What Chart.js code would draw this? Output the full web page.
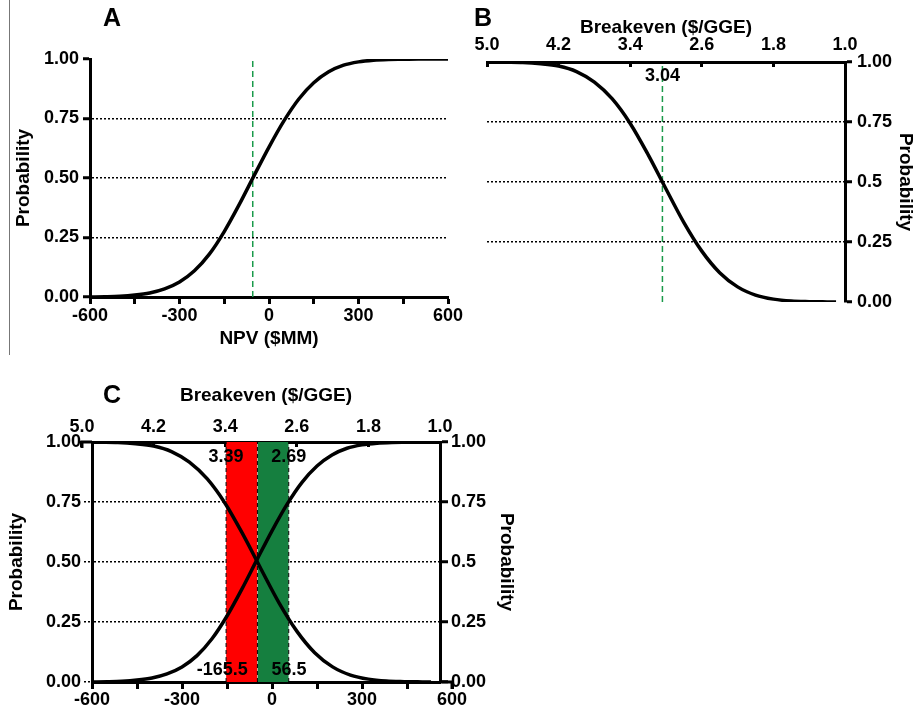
<!DOCTYPE html>
<html>
<head>
<meta charset="utf-8">
<script src="https://cdn.jsdelivr.net/npm/chart.js@4"></script>
<style>
  body { margin: 0; background: #fff; width: 917px; height: 712px; position: relative; overflow: hidden;
         font-family: "Liberation Sans", Arial, sans-serif; }
  canvas { position: absolute; }
  .letter { position: absolute; font-weight: bold; font-size: 25px; line-height: 1; }
  .rule { position: absolute; left: 9px; top: 0; width: 1px; height: 355px; background: #777; }
</style>
</head>
<body>
<div class="rule"></div>
<canvas id="chartA" width="470" height="360" style="left:0;top:0"></canvas>
<canvas id="chartB" width="457" height="330" style="left:460px;top:0"></canvas>
<canvas id="chartC" width="520" height="332" style="left:0;top:380px"></canvas>
<div class="letter" style="left:103px;top:5px">A</div>
<div class="letter" style="left:474px;top:5px">B</div>
<div class="letter" style="left:103px;top:382px">C</div>

<script>
// NPV ($MM) and its cumulative probability (panel A, rising curve in C)
const npv = [-600, -550, -500, -450, -400, -350, -300, -250, -200, -150, -100, -50, 0,
  50, 100, 150, 200, 250, 300, 350, 400, 450, 500, 550, 600];
const npvProb = [0.000, 0.001, 0.003, 0.008, 0.017, 0.034, 0.063, 0.110, 0.180, 0.275, 0.388, 0.510, 0.630,
  0.740, 0.832, 0.900, 0.946, 0.974, 0.988, 0.995, 0.998, 0.999, 1.000, 1.000, 1.000];

// Breakeven ($/GGE) and its probability (panel B, falling curve in C)
const breakeven = [5.0, 4.8, 4.6, 4.4, 4.2, 4.0, 3.8, 3.6, 3.4, 3.2, 3.0, 2.8, 2.6,
  2.4, 2.2, 2.0, 1.8, 1.6, 1.4, 1.2, 1.1];
const breakevenProb = [1.000, 0.999, 0.998, 0.993, 0.983, 0.960, 0.916, 0.846, 0.744, 0.614, 0.471, 0.331, 0.212,
  0.122, 0.063, 0.029, 0.012, 0.004, 0.0015, 0.0004, 0.000];

// tick values / labels
const npvTicks = [-600, -450, -300, -150, 0, 150, 300, 450, 600];
const npvLabels = [-600, -300, 0, 300, 600];
const beTicks = [5.0, 4.2, 3.4, 2.6, 1.8, 1.0];
const probTicks = [0, 0.25, 0.5, 0.75, 1];

// marked values
const npvMedian = -54.5;
const npvLow = -165.5;
const npvHigh = 56.5;
const beMedian = 3.04;
const beLow = 3.39;
const beHigh = 2.69;

const FONT = '"Liberation Sans", Arial, sans-serif';
const tickFont = { family: FONT, size: 18, weight: 'bold' };
const titleFont = { family: FONT, size: 19, weight: 'bold' };
Chart.defaults.color = '#000';
Chart.defaults.font.family = FONT;

const pts = (xs, ys) => xs.map((x, i) => ({ x: x, y: ys[i] }));
const vline = x => [{ x: x, y: 0 }, { x: x, y: 1 }];
const fixTicks = list => s => { s.ticks = list.map(v => ({ value: v })); };
const fmtLeft = v => v.toFixed(2);
const fmtRight = v => (v === 0.5 ? '0.5' : v.toFixed(2));

// labels and little axis extensions drawn after the chart
const marks = {
  id: 'marks',
  afterDraw(chart, args, opts) {
    const ctx = chart.ctx;
    const area = chart.chartArea;
    ctx.save();
    (opts.stubs || []).forEach(s => {
      const px = chart.scales[s.axis].getPixelForValue(s.value);
      const y = s.edge === 'top' ? area.top : area.bottom;
      const from = px < area.left ? area.left : area.right;
      ctx.strokeStyle = '#000';
      ctx.lineWidth = 3;
      ctx.beginPath();
      ctx.moveTo(from, y);
      ctx.lineTo(px - (px < area.left ? 1.5 : -1.5), y);
      ctx.moveTo(px, y);
      ctx.lineTo(px, y + s.tick);
      ctx.stroke();
    });
    ctx.font = 'bold 18px ' + FONT;
    ctx.fillStyle = '#000';
    ctx.textAlign = 'center';
    ctx.textBaseline = 'middle';
    (opts.notes || []).forEach(n => {
      const px = chart.scales[n.axis].getPixelForValue(n.value);
      const y = n.from === 'top' ? area.top + n.dy : area.bottom - n.dy;
      ctx.fillText(n.text, px, y);
    });
    ctx.restore();
  }
};

function probAxis(pos, width, tl, pad, titlePad, fmt, grid, dotTicks) {
  return {
    type: 'linear', position: pos, min: 0, max: 1,
    afterBuildTicks: fixTicks(probTicks),
    afterFit: s => { s.width = width; },
    ticks: { font: tickFont, color: '#000', padding: pad, callback: fmt },
    grid: {
      drawOnChartArea: grid,
      color: c => (c.tick && c.tick.value > 0 && c.tick.value < 1) ? '#000' : 'rgba(0,0,0,0)',
      lineWidth: 1.5, tickLength: tl, tickColor: '#000',
      tickWidth: dotTicks ? 1.5 : 3, tickBorderDash: dotTicks ? [2, 2] : []
    },
    border: { color: '#000', width: 3, dash: [2, 2] },
    title: { display: true, text: 'Probability', font: titleFont, color: '#000', padding: { top: titlePad, bottom: 0 } }
  };
}

function npvAxis(height, pad, min, max, title) {
  return {
    type: 'linear', position: 'bottom', min: min, max: max,
    afterBuildTicks: fixTicks(npvTicks),
    afterFit: s => { s.height = height; },
    ticks: { font: tickFont, color: '#000', padding: pad, maxRotation: 0, autoSkip: false,
      callback: v => (npvLabels.includes(v) ? String(v) : '') },
    grid: { drawOnChartArea: false, tickLength: 7, tickColor: '#000', tickWidth: 3 },
    border: { color: '#000', width: 3 },
    title: { display: !!title, text: title || '', font: titleFont, color: '#000', padding: { top: 0, bottom: 10 } }
  };
}

function beAxis(height, pad, titlePad, min, max) {
  return {
    type: 'linear', position: 'top', reverse: true, min: min, max: max,
    afterBuildTicks: fixTicks(beTicks),
    afterFit: s => { s.height = height; },
    ticks: { font: tickFont, color: '#000', padding: pad, maxRotation: 0, autoSkip: false,
      callback: v => v.toFixed(1) },
    grid: { drawOnChartArea: false, tickLength: -5, tickColor: '#000', tickWidth: 3 },
    border: { color: '#000', width: 3 },
    title: { display: true, text: 'Breakeven ($/GGE)', font: titleFont, color: '#000', padding: { top: titlePad, bottom: 0 } }
  };
}

const curve = (data, axis) => ({
  data: data, xAxisID: axis, showLine: true, borderColor: '#000', borderWidth: 3.5,
  pointRadius: 0, cubicInterpolationMode: 'monotone', fill: false
});
const greenDash = (x, axis) => ({
  data: vline(x), xAxisID: axis, showLine: true, borderColor: '#1a9a4a', borderWidth: 1.5,
  borderDash: [6, 4], pointRadius: 0, fill: false
});
const blackDash = (x, axis) => ({
  data: vline(x), xAxisID: axis, showLine: true, borderColor: '#000', borderWidth: 1,
  borderDash: [4, 3], pointRadius: 0, fill: false
});
const band = (x1, x2, color, axis) => ({
  data: [{ x: x1, y: 1 }, { x: x2, y: 1 }], xAxisID: axis, showLine: true,
  borderWidth: 0, borderColor: 'rgba(0,0,0,0)', backgroundColor: color, pointRadius: 0, fill: 'origin'
});

const common = {
  responsive: false, animation: false,
  plugins: { legend: { display: false }, tooltip: { enabled: false } }
};

// Panel A
new Chart(document.getElementById('chartA'), {
  type: 'scatter',
  data: { datasets: [curve(pts(npv, npvProb), 'x'), greenDash(npvMedian, 'x')] },
  options: Object.assign({}, common, {
    layout: { padding: { left: 0, top: 59, right: 22, bottom: 0 } },
    scales: {
      x: npvAxis(63, 1, -600, 600, 'NPV ($MM)'),
      y: probAxis('left', 90, 7, 4, 12, fmtLeft, true, false)
    }
  }),
  plugins: [marks]
});

// Panel B
new Chart(document.getElementById('chartB'), {
  type: 'scatter',
  data: { datasets: [curve(pts(breakeven, breakevenProb), 'x'), greenDash(beMedian, 'x')] },
  options: Object.assign({}, common, {
    layout: { padding: { left: 27, top: 0, right: 0, bottom: 28 } },
    scales: {
      x: beAxis(62, 11, 16, 1.0, 5.0),
      y: probAxis('right', 72, 7, 5, 0, fmtRight, true, false)
    },
    plugins: Object.assign({}, common.plugins, {
      marks: { notes: [{ axis: 'x', value: beMedian, text: String(beMedian), from: 'top', dy: 14 }] }
    })
  }),
  plugins: [marks]
});

// Panel C
new Chart(document.getElementById('chartC'), {
  type: 'scatter',
  data: {
    datasets: [
      curve(pts(npv, npvProb), 'x'),
      curve(pts(breakeven, breakevenProb), 'x2'),
      blackDash(beLow, 'x2'),
      blackDash(beMedian, 'x2'),
      blackDash(beHigh, 'x2'),
      band(beLow, beMedian, '#ff0000', 'x2'),
      band(beMedian, beHigh, '#157f3f', 'x2')
    ]
  },
  options: Object.assign({}, common, {
    layout: { padding: 0 },
    scales: {
      x: npvAxis(30, 0, -600, 560, ''),
      x2: beAxis(62, 9, 4, 1.0, 4.888),
      y: probAxis('left', 92, 8, 3, 5, fmtLeft, true, true),
      y2: probAxis('right', 80, 8, 3, 2, fmtRight, false, false)
    },
    plugins: Object.assign({}, common.plugins, {
      marks: {
        stubs: [
          { axis: 'x2', value: 5.0, edge: 'top', tick: 6 },
          { axis: 'x', value: 600, edge: 'bottom', tick: 7 }
        ],
        notes: [
          { axis: 'x2', value: beLow, text: String(beLow), from: 'top', dy: 15 },
          { axis: 'x2', value: beHigh, text: String(beHigh), from: 'top', dy: 15 },
          { axis: 'x', value: npvLow, text: String(npvLow), from: 'bottom', dy: 12 },
          { axis: 'x', value: npvHigh, text: String(npvHigh), from: 'bottom', dy: 12 }
        ]
      }
    })
  }),
  plugins: [marks]
});
</script>
</body>
</html>
